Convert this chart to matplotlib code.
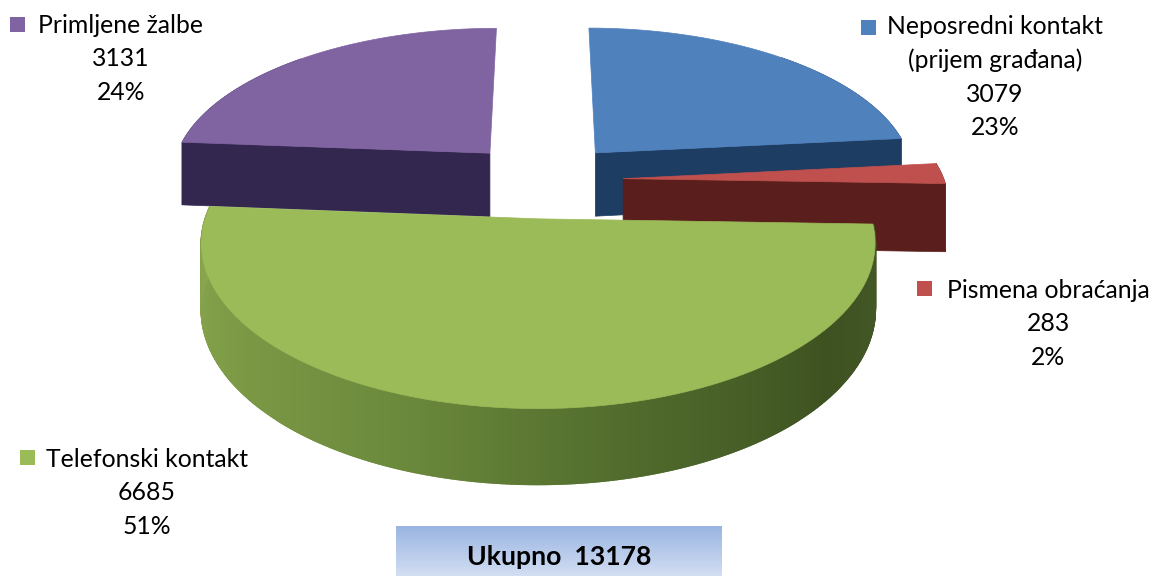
import numpy as np
import matplotlib
matplotlib.use('Agg')
import matplotlib.pyplot as plt
from matplotlib.patches import Polygon, Rectangle
from matplotlib.colors import LinearSegmentedColormap, to_rgb

# Data
categories = ['Neposredni kontakt\n(prijem građana)', 'Pismena obraćanja',
              'Telefonski kontakt', 'Primljene žalbe']
values = [3079, 283, 6685, 3131]
percents = ['23%', '2%', '51%', '24%']
total_label = 'Ukupno  13178'

# Styles, same order as the data
top_colors = ['#4f81bd', '#c0504d', '#9bbb59', '#8064a2']
side_colors = ['#1d3d63', '#5a1f1c', '#6f8f3f', '#33264f']
explode = [0.25, 0.25, 0.25, 0.25]
depths = [65, 68, 62, 65]

# Perspective projection of the pie
cx, cy = 543, 180
a, b, p = 321, 150, 0.144
start_angle = 90.0

plt.rcParams['font.family'] = ['Lato', 'DejaVu Sans']

fig = plt.figure(figsize=(11.54, 5.76), dpi=100)
ax = fig.add_axes([0, 0, 1, 1])
ax.set_xlim(0, 1154)
ax.set_ylim(576, 0)
ax.axis('off')


def project(x, y, z=0):
    s = 1 + p * y
    return cx + a * x / s, cy - (b * y - z) / s


def wedge_points(t1, t2, off):
    ts = np.radians(np.linspace(t1, t2, 120))
    return off[0] + np.cos(ts), off[1] + np.sin(ts)


def draw_extruded(xs, ys, color, depth, lw=0.5):
    px0, py0 = project(xs, ys)
    px1, py1 = project(xs, ys, depth)
    pts = np.r_[np.c_[px0, py0], np.c_[px1, py1][::-1]]
    ax.add_patch(Polygon(pts, closed=True, fc=color, ec=color, lw=lw))


def green_shade(frac):
    stops = ['#8aa64e', '#7d9b46', '#6c8a3c', '#4f6a2c', '#3e5221', '#46592a']
    cmap = LinearSegmentedColormap.from_list('g', stops)
    return cmap(frac)


# Slice angles, clockwise from the start angle
sizes = np.array(values) / sum(values) * 360
ends = start_angle - np.cumsum(sizes)
starts = ends + sizes
mids = (starts + ends) / 2
offsets = [(e * np.cos(np.radians(m)), e * np.sin(np.radians(m)))
           for e, m in zip(explode, mids)]

# Paint back to front: blue, purple, red, green
for i in [0, 3, 1, 2]:
    off = offsets[i]
    xs, ys = wedge_points(starts[i], ends[i], off)

    if i == 2:
        # Rim of the big slice, shaded left to right
        ts = np.linspace(starts[i], ends[i], 481)
        tx = off[0] + np.cos(np.radians(ts))
        ty = off[1] + np.sin(np.radians(ts))
        for k in range(len(ts) - 1):
            qx = np.array([tx[k], tx[k + 1]])
            qy = np.array([ty[k], ty[k + 1]])
            frac = k / (len(ts) - 2)
            draw_extruded(qx, qy, green_shade(1 - frac), depths[i], lw=1.5)
    else:
        # Outer half of the rim plus the cut face that looks towards the viewer
        if i == 0:
            draw_extruded(xs[60:], ys[60:], side_colors[i], depths[i])
        elif i == 3:
            draw_extruded(xs[:60], ys[:60], side_colors[i], depths[i])
        else:
            draw_extruded(xs, ys, side_colors[i], depths[i])
        j = 0 if i == 3 else -1
        draw_extruded(np.array([off[0], xs[j]]), np.array([off[1], ys[j]]),
                      side_colors[i], depths[i])

    fx, fy = project(np.r_[off[0], xs], np.r_[off[1], ys])
    ax.add_patch(Polygon(np.c_[fx, fy], closed=True, fc=top_colors[i], ec=top_colors[i], lw=0.5))

# Labels: legend key + name, then value and percent centred below
fs = 17.8
label_pos = [(995, 15), (1048, 279), (147, 448), (121, 14)]
key_pos = [(861, 20), (917, 281), (20, 450), (10, 17)]
for i, name in enumerate(categories):
    lx, ly = label_pos[i]
    txt = name + '\n' + str(values[i]) + '\n' + percents[i]
    ax.text(lx, ly, txt, ha='center', va='top', fontsize=fs, color='black',
            linespacing=1.55, multialignment='center')
    ax.add_patch(Rectangle(key_pos[i], 15, 15, fc=top_colors[i], ec='none'))

# Total box with vertical gradient
grad = np.linspace(0, 1, 64).reshape(-1, 1)
cmap = LinearSegmentedColormap.from_list('box', [to_rgb('#9ab5e2'), to_rgb('#d2def2')])
ax.imshow(grad, cmap=cmap, extent=(396, 722, 576, 526), aspect='auto', zorder=3)
ax.set_xlim(0, 1154)
ax.set_ylim(576, 0)
ax.text(559, 557, total_label, ha='center', va='center', fontsize=19.2,
        fontweight='bold', color='black', zorder=4)

fig.savefig('out.png', dpi=100)
